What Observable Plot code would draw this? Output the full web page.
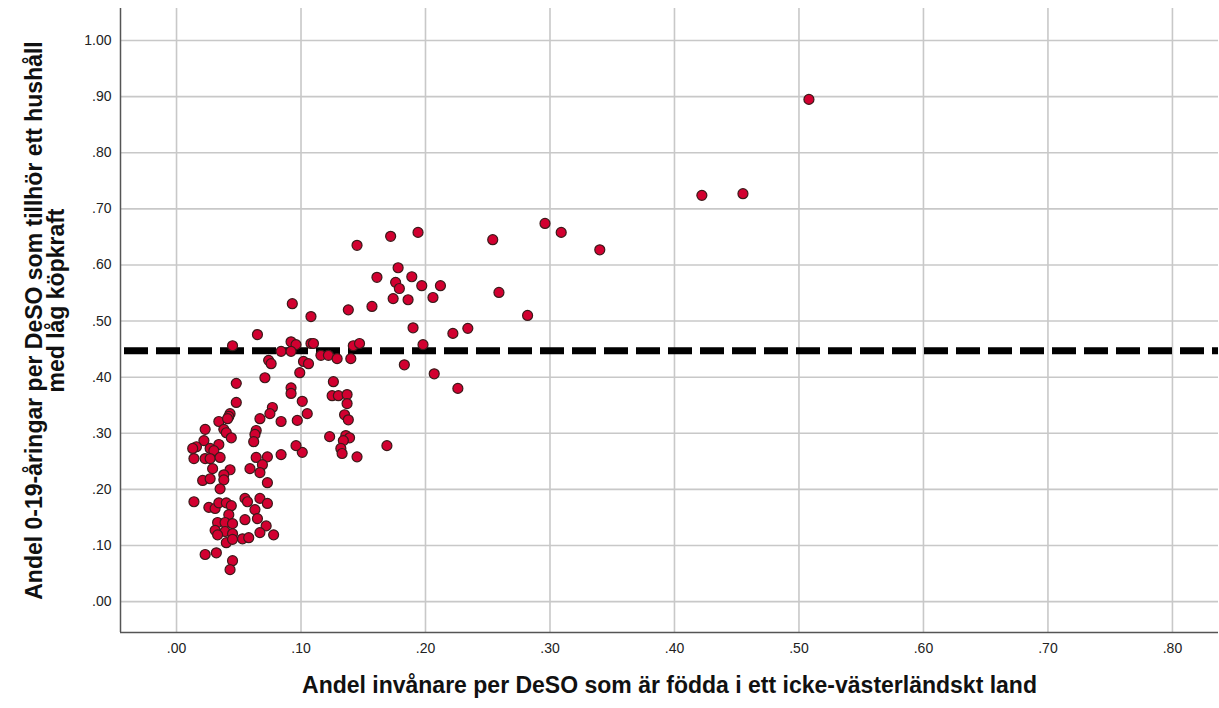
<!DOCTYPE html>
<html>
<head>
<meta charset="utf-8">
<script src="https://cdn.jsdelivr.net/npm/d3@7"></script>
<script src="https://cdn.jsdelivr.net/npm/@observablehq/plot@0.6"></script>
<style>
  html, body { margin: 0; padding: 0; background: #fff; }
  #chart { width: 1219px; height: 708px; }
</style>
</head>
<body>
<div id="chart"></div>
<script>
// Share of inhabitants born in a non-western country (x) per DeSO
const xValues = [
  0.508, 0.422, 0.455, 0.296, 0.309, 0.340, 0.254, 0.194, 0.172, 0.145,
  0.178, 0.161, 0.189, 0.176, 0.179, 0.197, 0.212, 0.174, 0.186, 0.206,
  0.259, 0.282, 0.093, 0.138, 0.157, 0.108, 0.190, 0.222, 0.234, 0.065,
  0.092, 0.096, 0.108, 0.110, 0.142, 0.147, 0.198, 0.045, 0.084, 0.092,
  0.116, 0.122, 0.129, 0.140, 0.183, 0.102, 0.106, 0.074, 0.076, 0.099,
  0.207, 0.071, 0.126, 0.226, 0.048, 0.092, 0.092, 0.125, 0.130, 0.137,
  0.137, 0.101, 0.048, 0.105, 0.135, 0.138, 0.097, 0.077, 0.075, 0.043,
  0.042, 0.067, 0.084, 0.034, 0.041, 0.123, 0.136, 0.139, 0.134, 0.132,
  0.133, 0.145, 0.169, 0.101, 0.096, 0.023, 0.038, 0.040, 0.044, 0.064,
  0.063, 0.062, 0.022, 0.016, 0.013, 0.027, 0.034, 0.030, 0.014, 0.023,
  0.027, 0.035, 0.029, 0.043, 0.038, 0.021, 0.027, 0.038, 0.035, 0.084,
  0.064, 0.073, 0.069, 0.067, 0.059, 0.073, 0.014, 0.026, 0.031, 0.034,
  0.040, 0.044, 0.042, 0.033, 0.039, 0.045, 0.031, 0.039, 0.045, 0.040,
  0.045, 0.023, 0.032, 0.045, 0.043, 0.055, 0.057, 0.067, 0.073, 0.063,
  0.065, 0.055, 0.072, 0.067, 0.078, 0.053, 0.058, 0.033
];
// Share of 0-19 year olds per DeSO in low purchasing-power households (y)
const yValues = [
  0.895, 0.724, 0.727, 0.674, 0.658, 0.627, 0.645, 0.658, 0.651, 0.635,
  0.595, 0.578, 0.579, 0.569, 0.558, 0.563, 0.563, 0.540, 0.538, 0.542,
  0.551, 0.510, 0.531, 0.520, 0.526, 0.508, 0.488, 0.478, 0.487, 0.476,
  0.463, 0.458, 0.460, 0.460, 0.456, 0.460, 0.458, 0.456, 0.446, 0.446,
  0.439, 0.439, 0.433, 0.433, 0.422, 0.428, 0.424, 0.430, 0.424, 0.408,
  0.406, 0.399, 0.392, 0.380, 0.389, 0.381, 0.371, 0.367, 0.367, 0.369,
  0.353, 0.357, 0.355, 0.335, 0.333, 0.324, 0.323, 0.346, 0.335, 0.335,
  0.330, 0.326, 0.321, 0.321, 0.326, 0.294, 0.296, 0.292, 0.287, 0.273,
  0.264, 0.258, 0.278, 0.266, 0.278, 0.307, 0.307, 0.301, 0.292, 0.305,
  0.298, 0.285, 0.287, 0.276, 0.273, 0.273, 0.280, 0.269, 0.255, 0.255,
  0.255, 0.257, 0.237, 0.235, 0.226, 0.216, 0.219, 0.217, 0.201, 0.262,
  0.257, 0.258, 0.244, 0.230, 0.237, 0.212, 0.178, 0.168, 0.166, 0.176,
  0.176, 0.171, 0.155, 0.141, 0.141, 0.139, 0.127, 0.125, 0.121, 0.105,
  0.111, 0.084, 0.087, 0.073, 0.057, 0.184, 0.178, 0.184, 0.175, 0.164,
  0.148, 0.146, 0.135, 0.123, 0.119, 0.112, 0.114, 0.119
];
const meanLine = [0.447];
const xTicks = [0, 0.1, 0.2, 0.3, 0.4, 0.5, 0.6, 0.7, 0.8];
const yTicks = [0, 0.1, 0.2, 0.3, 0.4, 0.5, 0.6, 0.7, 0.8, 0.9, 1.0];
const xDomain = [-0.045, 0.837];
const yDomain = [-0.055, 1.057];
const xTitle = "Andel invånare per DeSO som är födda i ett icke-västerländskt land";
const yTitleLine1 = "Andel 0-19-åringar per DeSO som tillhör ett hushåll";
const yTitleLine2 = "med låg köpkraft";

const points = xValues.map((x, i) => ({x, y: yValues[i]}));
const fmt = d => (d >= 1 ? d.toFixed(2) : d.toFixed(2).replace(/^0/, ""));
const FONT = "'Liberation Sans', Arial, sans-serif";

const chart = Plot.plot({
  width: 1219,
  height: 708,
  marginLeft: 120,
  marginRight: 1,
  marginTop: 8,
  marginBottom: 76,
  style: {fontFamily: FONT, fontSize: "14px", color: "#222", background: "#fff"},
  x: {domain: xDomain, axis: null},
  y: {domain: yDomain, axis: null},
  marks: [
    Plot.gridX(xTicks, {stroke: "#c8c8c8", strokeOpacity: 1, strokeWidth: 1.6}),
    Plot.gridY(yTicks, {stroke: "#c8c8c8", strokeOpacity: 1, strokeWidth: 1.6}),
    Plot.axisX({ticks: xTicks, tickSize: 0, tickPadding: 11, tickFormat: fmt, fontSize: 14, label: null}),
    Plot.axisY({ticks: yTicks, tickSize: 0, tickPadding: 9, tickFormat: fmt, fontSize: 14, label: null}),
    Plot.ruleX([xDomain[0]], {stroke: "#555", strokeWidth: 1.5}),
    Plot.ruleY([yDomain[0]], {stroke: "#555", strokeWidth: 1.5}),
    Plot.ruleY(meanLine, {stroke: "#000", strokeWidth: 7, strokeDasharray: "24,8", strokeDashoffset: 28}),
    Plot.dot(points, {x: "x", y: "y", r: 5, fill: "#d20030", stroke: "#3b1a1a", strokeWidth: 1.2}),
    Plot.text([xTitle], {frameAnchor: "bottom", dy: 60, fontSize: 23, fontWeight: "bold", fill: "#111"}),
    Plot.text([yTitleLine1], {frameAnchor: "left", textAnchor: "middle", dx: -86, rotate: -90, fontSize: 23, fontWeight: "bold", fill: "#111"}),
    Plot.text([yTitleLine2], {frameAnchor: "left", textAnchor: "middle", dx: -64, dy: -20, rotate: -90, fontSize: 23, fontWeight: "bold", fill: "#111"})
  ]
});
document.getElementById("chart").appendChild(chart);
</script>
</body>
</html>
